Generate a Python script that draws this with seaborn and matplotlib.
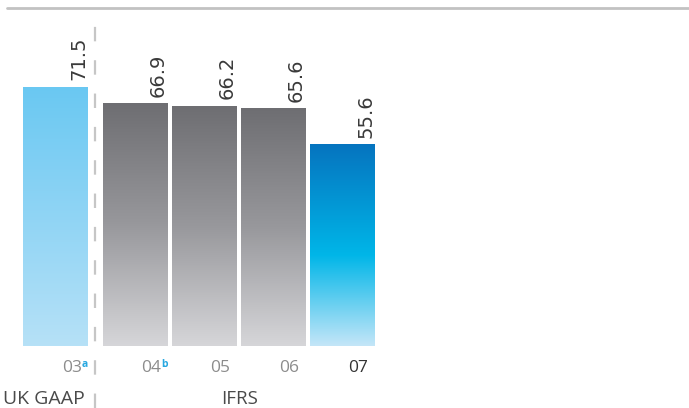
import numpy as np
import pandas as pd
import matplotlib
matplotlib.use("Agg")
import matplotlib.pyplot as plt
import seaborn as sns
from matplotlib.colors import LinearSegmentedColormap
from matplotlib.lines import Line2D

years = ["03", "04", "05", "06", "07"]
values = [71.5, 66.9, 66.2, 65.6, 55.6]
footnotes = ["a", "b", "", "", ""]
regimes = ["UK GAAP", "IFRS"]

df = pd.DataFrame({"year": years, "value": values})

sns.set_style("white")
plt.rcParams["font.family"] = ["Open Sans", "DejaVu Sans"]

fig = plt.figure(figsize=(6.89, 4.08), dpi=100)
ax = fig.add_axes([0, 62 / 408, 1, 346 / 408])

sns.barplot(data=df, x="year", y="value", width=0.94, color="white", ax=ax)

# gradients, bottom -> top
cm_uk = LinearSegmentedColormap.from_list("uk", ["#b6e1f7", "#6ac8f2"])
cm_grey = LinearSegmentedColormap.from_list(
    "grey", [(0, "#d6d6d9"), (0.5, "#98989c"), (1, "#6e6e72")])
cm_last = LinearSegmentedColormap.from_list(
    "last", [(0, "#c4e6f8"), (0.45, "#00b6e8"), (1, "#0674bf")])
cmaps = [cm_uk, cm_grey, cm_grey, cm_grey, cm_last]

bars = ax.patches[:len(values)]
bars[0].set_x(bars[0].get_x() - 0.152)  # extra gap before IFRS years

grad = np.linspace(0, 1, 256).reshape(-1, 1)
centers = []
for bar, cm, v in zip(bars, cmaps, values):
    x0, w, h = bar.get_x(), bar.get_width(), bar.get_height()
    ax.imshow(grad, extent=[x0, x0 + w, 0, h], origin="lower",
              aspect="auto", cmap=cm, zorder=2)
    bar.set_visible(False)
    centers.append(x0 + w / 2)
    ax.annotate(f"{v:.1f}", xy=(x0 + w, h), xytext=(0.5, 5),
                textcoords="offset points", rotation=90, ha="right",
                va="bottom", fontsize=14, color="#3a3a3a",
                family="DejaVu Sans")

ax.set_xlim(-66 / 69, 623 / 69)
ax.set_ylim(0, 346 / 3.62)
ax.set_axis_off()

# year labels
lab_y = (346 - 368) / 346
for i, (c, yr, fn) in enumerate(zip(centers, years, footnotes)):
    col = "#333333" if i == len(years) - 1 else "#8c8c8c"
    ax.text(c + 0.24, lab_y, yr, transform=ax.get_xaxis_transform(),
            ha="center", va="center", fontsize=12.5, color=col)
    if fn:
        ax.annotate(fn, xy=(c + 0.24, lab_y), xycoords=("data", "axes fraction"),
                    xytext=(7, 2.5), textcoords="offset points", ha="left",
                    va="center", fontsize=7.5, color="#29a8e0", fontweight="bold")

grp_y = (346 - 399) / 346
ax.text(centers[0] - 0.17, grp_y, regimes[0], transform=ax.get_xaxis_transform(),
        ha="center", va="center", fontsize=14, color="#4a4a4a")
ax.text(np.mean(centers[1:]) + 0.02, grp_y, regimes[1],
        transform=ax.get_xaxis_transform(),
        ha="center", va="center", fontsize=13.5, color="#4a4a4a")

# divider between accounting regimes
div_x = (bars[0].get_x() + bars[0].get_width() + bars[1].get_x()) / 2
ax.add_line(Line2D([div_x, div_x], [-62 / 346, 336 / 346],
                   transform=ax.get_xaxis_transform(), color="#c6c6c6",
                   lw=1.6, linestyle=(0, (6.5, 8.5)), clip_on=False))

# top rule
fig.add_artist(Line2D([7 / 689, 1], [1 - 8 / 408, 1 - 8 / 408],
                      transform=fig.transFigure, color="#c2c2c2", lw=2))

fig.savefig("out.png", dpi=100)
